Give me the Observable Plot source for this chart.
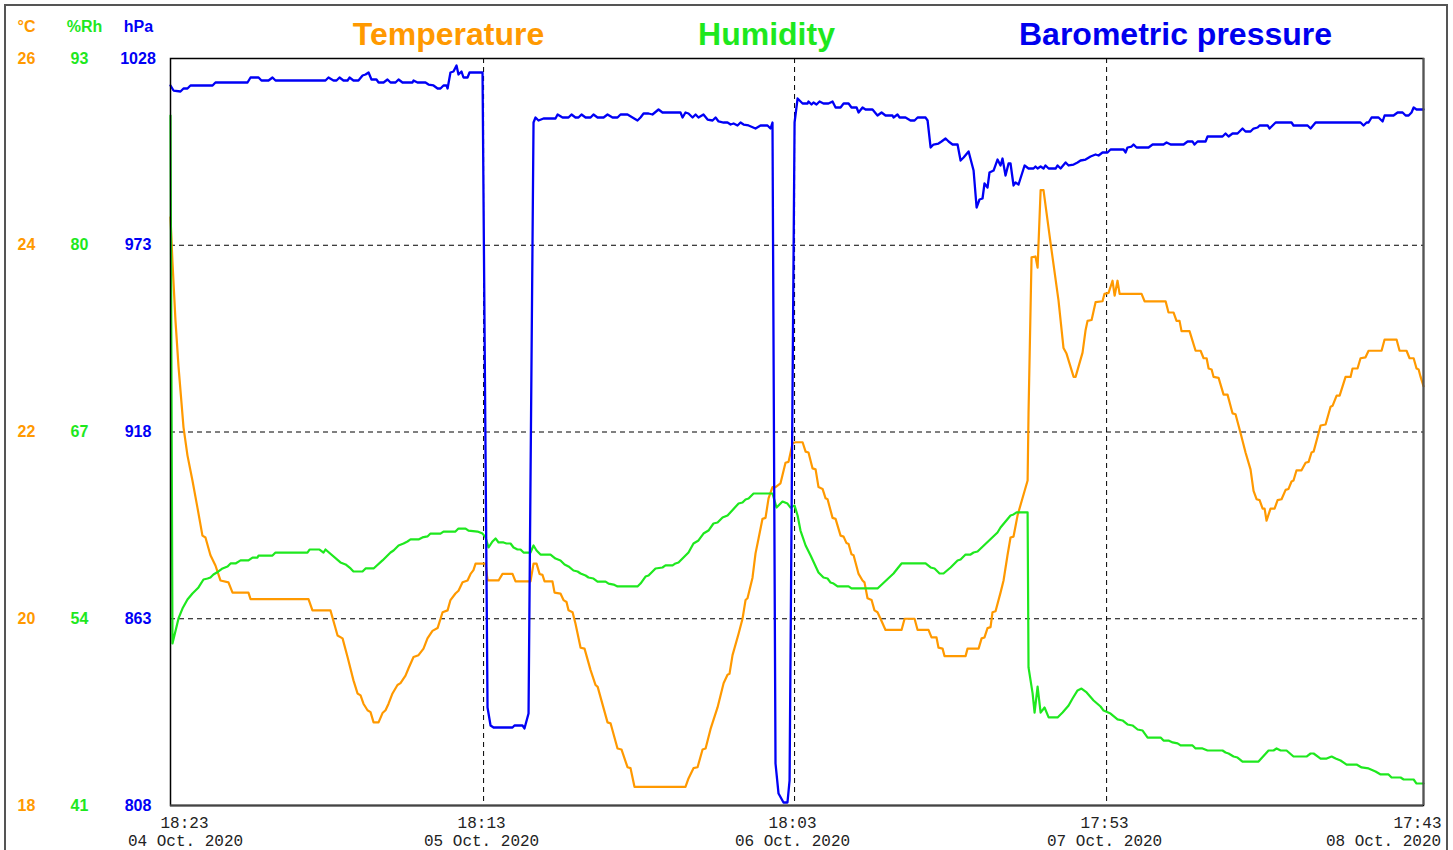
<!DOCTYPE html>
<html><head><meta charset="utf-8">
<script src="https://cdn.jsdelivr.net/npm/d3@7"></script>
<script src="https://cdn.jsdelivr.net/npm/@observablehq/plot@0.6"></script>
<style>
body{margin:0;background:#fff;}
#wrap{position:relative;width:1453px;height:850px;overflow:hidden;background:#fff;}
#border{position:absolute;left:4px;top:4px;width:1440px;height:900px;border:2px solid #555;pointer-events:none;}
</style></head><body><div id="wrap"><div id="chart"></div><div id="border"></div></div>
<script>
// Time axis: start of record (UTC); tick positions in hours since start
const startTime = "2020-10-04T18:23:00Z";
const xTickHours = [0, 23.82, 47.48, 71.22, 95.33];
const xTickTimeLabels = ["18:23", "18:13", "18:03", "17:53", "17:43"];
const xTickDateLabels = ["04 Oct. 2020", "05 Oct. 2020", "06 Oct. 2020", "07 Oct. 2020", "08 Oct. 2020"];

// Axis ticks per unit
const tempTicks = [18, 20, 22, 24, 26];
const humTicks = [41, 54, 67, 80, 93];
const presTicks = [808, 863, 918, 973, 1028];

// Titles
const titles = ["Temperature", "Humidity", "Barometric pressure"];
const units = ["°C", "%Rh", "hPa"];

// Series: [hours since start, value]
const temperature = [[0,24.3],[0.15,23.82],[0.38,23.19],[0.61,22.7],[0.99,22.05],[1.29,21.75],[1.67,21.48],[2.05,21.19],[2.43,20.89],[2.66,20.87],[3.04,20.68],[3.42,20.57],[3.8,20.41],[4.41,20.39],[4.72,20.28],[5.93,20.28],[6.09,20.21],[10.5,20.21],[10.8,20.09],[12.17,20.09],[12.71,19.82],[13.09,19.79],[13.47,19.59],[13.92,19.34],[14.23,19.2],[14.46,19.18],[14.68,19.09],[14.99,19.02],[15.22,19.0],[15.45,18.89],[15.83,18.89],[16.13,18.99],[16.36,19.02],[16.59,19.09],[16.89,19.2],[17.27,19.29],[17.5,19.31],[17.88,19.39],[18.11,19.47],[18.49,19.59],[18.87,19.61],[19.25,19.68],[19.55,19.79],[19.93,19.87],[20.32,19.9],[20.7,20.07],[21.08,20.09],[21.3,20.2],[21.68,20.27],[21.91,20.3],[22.22,20.39],[22.6,20.41],[22.83,20.48],[23.05,20.52],[23.21,20.59],[23.97,20.59],[24.12,20.41],[24.96,20.41],[25.26,20.48],[26.02,20.48],[26.25,20.4],[27.39,20.4],[27.62,20.59],[27.85,20.59],[28.08,20.48],[28.3,20.47],[28.46,20.4],[29.06,20.4],[29.22,20.28],[29.67,20.27],[29.9,20.2],[30.13,20.18],[30.28,20.09],[30.59,20.07],[30.81,19.95],[31.2,19.69],[31.5,19.68],[31.96,19.45],[32.34,19.29],[32.5,19.27],[33.25,18.89],[33.48,18.88],[34.01,18.61],[34.31,18.6],[34.77,18.41],[35.0,18.4],[35.3,18.2],[39.18,18.2],[39.41,18.29],[39.79,18.4],[40.1,18.41],[40.48,18.6],[40.71,18.61],[41.09,18.82],[41.62,19.05],[42.08,19.31],[42.38,19.4],[42.53,19.41],[42.76,19.61],[43.22,19.84],[43.52,20.0],[43.75,20.2],[43.9,20.22],[44.28,20.44],[44.51,20.7],[44.74,20.86],[45.04,21.07],[45.27,21.08],[45.5,21.29],[45.8,21.41],[46.03,21.41],[46.41,21.45],[46.79,21.67],[47.02,21.68],[47.33,21.88],[47.55,21.89],[48.09,21.89],[48.32,21.79],[48.54,21.78],[48.85,21.61],[49.08,21.6],[49.3,21.41],[49.61,21.39],[49.84,21.29],[49.99,21.28],[50.37,21.08],[50.6,21.07],[50.98,20.89],[51.21,20.88],[51.43,20.81],[51.59,20.8],[51.81,20.69],[51.97,20.68],[52.35,20.48],[52.65,20.41],[52.8,20.39],[53.03,20.22],[53.34,20.2],[53.56,20.09],[53.79,20.07],[54.02,20.0],[54.4,19.88],[55.62,19.88],[55.85,20.0],[56.61,20.0],[56.84,19.88],[57.67,19.88],[57.9,19.8],[58.28,19.8],[58.43,19.69],[58.74,19.68],[58.89,19.6],[60.49,19.6],[60.64,19.68],[61.48,19.68],[61.71,19.79],[61.93,19.8],[62.16,19.9],[62.39,19.91],[62.54,20.07],[62.77,20.08],[63.15,20.28],[63.38,20.41],[63.68,20.68],[63.91,20.87],[64.14,20.88],[64.45,21.11],[65.21,21.48],[65.28,22.2],[65.51,23.87],[65.81,23.88],[65.97,23.76],[66.2,24.59],[66.42,24.59],[66.96,24.02],[67.56,23.41],[67.94,22.9],[68.17,22.84],[68.71,22.59],[68.86,22.59],[69.39,22.85],[69.62,23.09],[69.77,23.19],[70.08,23.2],[70.38,23.39],[70.91,23.4],[71.06,23.48],[71.37,23.49],[71.67,23.62],[71.83,23.46],[72.05,23.62],[72.21,23.48],[73.88,23.48],[74.11,23.4],[75.71,23.4],[75.93,23.28],[76.31,23.28],[76.54,23.19],[76.77,23.19],[76.92,23.08],[77.53,23.08],[77.99,22.87],[78.37,22.87],[78.6,22.79],[78.83,22.79],[78.98,22.68],[79.21,22.67],[79.36,22.59],[79.74,22.58],[80.12,22.4],[80.42,22.4],[80.8,22.2],[81.03,22.19],[81.41,21.99],[81.79,21.78],[82.17,21.6],[82.4,21.37],[82.63,21.28],[82.86,21.27],[83.09,21.18],[83.24,21.18],[83.39,21.05],[83.69,21.18],[84.0,21.18],[84.23,21.27],[84.53,21.28],[84.84,21.38],[85.06,21.39],[85.29,21.47],[85.44,21.48],[85.67,21.59],[86.05,21.59],[86.36,21.67],[86.59,21.68],[86.81,21.78],[86.97,21.79],[87.35,21.99],[87.5,22.07],[87.88,22.08],[88.26,22.27],[88.41,22.28],[88.72,22.39],[88.95,22.39],[89.4,22.59],[89.78,22.59],[89.93,22.68],[90.31,22.68],[90.54,22.79],[90.92,22.8],[91.15,22.87],[92.14,22.87],[92.37,22.99],[93.28,22.99],[93.51,22.87],[94.04,22.87],[94.27,22.79],[94.58,22.79],[94.8,22.68],[94.96,22.67],[95.11,22.59],[95.33,22.49]];

const humidity = [[0,89.03],[0.15,52.28],[0.61,54.02],[0.91,54.71],[1.29,55.34],[1.67,55.76],[2.13,56.18],[2.51,56.73],[2.82,56.8],[3.04,56.87],[3.27,57.08],[3.65,57.29],[3.96,57.5],[4.34,57.64],[4.57,57.85],[4.95,57.85],[5.33,58.06],[5.93,58.06],[6.24,58.26],[6.62,58.26],[6.7,58.4],[7.76,58.4],[7.99,58.61],[10.42,58.61],[10.58,58.82],[11.34,58.82],[11.64,58.61],[11.79,58.82],[12.93,57.92],[13.32,57.78],[13.7,57.5],[13.92,57.29],[14.61,57.29],[14.84,57.5],[15.45,57.5],[16.13,58.06],[16.74,58.61],[16.97,58.75],[17.35,59.1],[17.73,59.24],[18.03,59.38],[18.26,59.52],[18.87,59.52],[19.17,59.66],[19.55,59.73],[19.78,59.93],[20.54,59.93],[20.77,60.07],[21.68,60.07],[21.91,60.28],[22.45,60.28],[22.67,60.14],[23.36,60.07],[23.74,59.93],[23.97,59.66],[24.2,58.96],[24.5,59.38],[24.73,59.59],[24.96,59.31],[25.34,59.31],[25.56,59.24],[25.87,59.24],[26.1,58.96],[26.4,58.82],[26.63,58.82],[26.86,58.61],[27.39,58.61],[27.62,59.1],[27.85,58.75],[28.15,58.47],[28.91,58.47],[29.29,58.19],[29.67,58.06],[29.98,57.78],[30.28,57.64],[30.66,57.36],[30.97,57.29],[31.2,57.15],[31.58,57.01],[31.8,56.87],[32.18,56.8],[32.49,56.59],[33.1,56.59],[33.33,56.45],[33.71,56.38],[34.01,56.25],[35.53,56.25],[35.76,56.45],[36.14,56.94],[36.37,57.01],[36.9,57.5],[37.43,57.57],[37.66,57.71],[38.2,57.71],[38.42,57.85],[38.65,57.92],[39.41,58.61],[39.79,59.24],[40.17,59.45],[40.55,59.93],[40.93,60.14],[41.31,60.63],[41.62,60.7],[42.0,61.05],[42.38,61.19],[43.22,62.02],[43.52,62.09],[43.75,62.3],[43.98,62.37],[44.36,62.72],[45.8,62.72],[46.11,61.74],[46.56,62.16],[46.94,62.02],[47.17,61.74],[47.48,61.88],[47.71,61.19],[47.93,60.14],[48.32,59.1],[48.7,58.4],[49.3,57.22],[49.68,56.87],[49.99,56.8],[50.22,56.52],[50.45,56.45],[50.75,56.25],[51.59,56.25],[51.81,56.11],[53.79,56.11],[55.01,57.15],[55.31,57.5],[55.62,57.85],[57.45,57.85],[57.83,57.57],[58.13,57.5],[58.51,57.15],[58.81,57.15],[59.35,57.57],[59.88,58.06],[60.11,58.13],[60.49,58.47],[60.87,58.47],[61.1,58.61],[61.4,58.68],[62.92,60.0],[63.15,60.35],[63.91,61.19],[64.14,61.26],[64.37,61.4],[65.21,61.4],[65.28,50.61],[65.59,48.8],[65.74,47.47],[65.97,49.28],[66.2,47.47],[66.5,47.82],[66.81,47.13],[67.49,47.13],[67.87,47.47],[68.33,47.96],[68.63,48.45],[69.01,49.01],[69.31,49.14],[69.7,48.87],[70.23,48.31],[70.76,47.89],[70.99,47.61],[71.52,47.4],[72.05,46.99],[72.43,46.92],[72.81,46.64],[73.19,46.57],[73.58,46.29],[73.96,46.22],[74.34,45.73],[75.33,45.73],[75.55,45.52],[75.93,45.52],[76.24,45.39],[76.62,45.32],[76.85,45.18],[77.76,45.18],[77.99,44.97],[78.52,44.97],[78.9,44.83],[80.04,44.83],[80.27,44.69],[80.5,44.62],[80.88,44.41],[81.18,44.34],[81.56,44.06],[82.78,44.06],[83.54,44.83],[83.92,44.83],[84.15,44.97],[84.46,44.83],[84.91,44.83],[85.44,44.41],[86.43,44.41],[86.74,44.62],[86.97,44.62],[87.5,44.27],[87.96,44.27],[88.34,44.41],[88.64,44.27],[89.02,44.13],[89.48,43.85],[90.24,43.85],[90.62,43.65],[91.15,43.58],[91.68,43.37],[92.07,43.16],[92.67,43.16],[92.9,42.95],[93.59,42.95],[93.82,42.81],[94.58,42.81],[94.8,42.53],[95.33,42.53]];

const pressure = [[0,1020.05],[0.23,1018.57],[0.76,1018.28],[0.99,1019.16],[1.29,1019.16],[1.52,1020.05],[3.2,1020.05],[3.42,1020.93],[5.86,1020.93],[6.09,1022.4],[6.7,1022.4],[6.92,1021.52],[7.46,1021.52],[7.76,1022.4],[7.99,1021.52],[11.79,1021.52],[12.02,1022.4],[12.4,1021.52],[12.63,1021.52],[12.86,1022.4],[13.16,1021.52],[13.47,1021.52],[13.62,1022.4],[13.92,1021.52],[14.3,1021.52],[14.61,1022.99],[14.84,1023.29],[15.07,1023.88],[15.29,1021.81],[15.67,1021.81],[15.83,1020.93],[16.21,1020.93],[16.51,1021.81],[16.74,1020.93],[17.12,1020.93],[17.35,1021.81],[17.65,1020.93],[18.41,1020.93],[18.49,1021.52],[18.79,1020.93],[19.4,1020.93],[19.63,1020.34],[20.01,1020.05],[20.32,1019.16],[20.54,1019.16],[20.77,1020.05],[21.0,1020.05],[21.08,1019.16],[21.3,1023.88],[21.53,1024.17],[21.76,1025.94],[21.91,1023.29],[22.14,1024.17],[22.29,1022.4],[22.6,1022.4],[22.75,1023.88],[23.74,1023.88],[24.12,836.86],[24.35,831.56],[24.58,830.97],[26.02,830.97],[26.17,831.56],[26.78,831.56],[26.93,830.68],[27.24,835.09],[27.62,1009.15],[27.77,1010.62],[28.0,1009.74],[28.38,1010.33],[29.29,1010.33],[29.45,1011.51],[29.83,1010.62],[30.28,1010.62],[30.51,1011.51],[30.81,1010.62],[31.04,1010.62],[31.27,1011.51],[31.58,1010.62],[31.96,1010.62],[32.18,1011.51],[32.49,1010.62],[32.95,1010.62],[33.25,1011.51],[33.63,1010.62],[34.01,1010.62],[34.24,1011.51],[34.77,1011.51],[35.15,1010.62],[35.53,1009.74],[35.76,1010.62],[35.99,1011.8],[36.37,1011.8],[36.67,1011.51],[37.13,1012.98],[37.43,1012.1],[38.8,1012.1],[38.96,1010.62],[39.18,1012.1],[39.41,1011.8],[39.72,1010.62],[39.95,1011.51],[40.17,1010.62],[40.55,1011.51],[40.86,1010.03],[41.24,1009.74],[41.47,1010.62],[41.7,1009.45],[42.08,1009.15],[42.38,1009.15],[42.61,1008.56],[42.84,1008.86],[43.14,1008.27],[43.37,1009.15],[43.6,1008.56],[43.98,1008.27],[44.51,1007.38],[44.89,1008.27],[45.42,1008.27],[45.65,1007.38],[45.8,1009.15],[46.03,820.37],[46.26,811.53],[46.64,808.88],[46.94,808.88],[47.1,815.36],[47.48,1009.15],[47.71,1016.22],[48.09,1014.75],[48.47,1014.75],[48.54,1015.34],[48.77,1014.45],[48.92,1015.04],[49.15,1014.45],[49.38,1015.34],[49.68,1014.75],[50.06,1014.75],[50.37,1015.34],[50.6,1013.57],[50.98,1013.57],[51.21,1014.75],[51.59,1014.75],[51.81,1013.57],[52.2,1013.57],[52.35,1012.1],[52.65,1013.57],[52.88,1012.98],[53.41,1012.98],[53.79,1011.21],[54.1,1012.1],[54.4,1011.21],[54.93,1011.21],[55.01,1010.62],[55.31,1011.51],[55.47,1010.62],[55.92,1010.62],[56.3,1009.74],[56.61,1009.74],[56.84,1010.62],[57.45,1010.62],[57.6,1009.74],[57.83,1001.79],[58.05,1002.67],[58.43,1002.96],[58.66,1003.55],[58.97,1004.44],[59.2,1003.55],[59.5,1002.67],[59.88,1002.67],[60.11,997.96],[60.34,998.84],[60.72,1000.61],[61.1,995.01],[61.33,984.12],[61.55,986.47],[61.78,986.77],[61.93,991.19],[62.16,990.01],[62.31,994.42],[62.62,995.01],[62.92,998.25],[63.15,996.49],[63.3,998.55],[63.53,993.54],[63.76,997.08],[63.91,997.08],[64.14,990.6],[64.29,991.48],[64.52,990.89],[64.98,996.49],[65.28,995.6],[65.66,995.6],[65.81,996.19],[65.97,995.6],[66.2,996.19],[66.42,995.6],[66.57,996.49],[66.81,995.6],[67.34,995.6],[67.49,996.49],[67.72,995.6],[68.1,997.37],[68.33,996.49],[68.71,996.78],[69.01,997.37],[69.24,997.96],[69.62,998.25],[70.0,999.14],[70.38,999.73],[70.61,999.43],[70.91,1000.32],[71.29,1000.32],[71.52,1001.2],[72.51,1001.2],[72.66,1000.32],[72.81,1001.79],[73.12,1002.08],[73.27,1002.67],[73.5,1001.79],[74.41,1001.79],[74.72,1002.67],[75.55,1002.67],[75.78,1003.26],[76.09,1002.67],[77.08,1002.67],[77.38,1003.55],[77.76,1003.55],[77.91,1002.67],[78.14,1003.55],[78.75,1003.55],[78.9,1005.03],[80.04,1005.03],[80.27,1005.91],[80.5,1005.03],[80.8,1005.91],[81.18,1005.91],[81.56,1007.38],[81.79,1006.5],[82.17,1006.5],[82.4,1007.38],[82.71,1007.68],[82.86,1008.27],[83.47,1008.27],[83.62,1007.38],[84.08,1009.15],[85.29,1009.15],[85.44,1008.27],[86.51,1008.27],[86.74,1007.38],[87.12,1009.15],[90.54,1009.15],[90.77,1008.27],[91.0,1009.15],[91.15,1009.15],[91.38,1010.62],[91.91,1010.62],[92.22,1009.45],[92.37,1011.21],[93.05,1011.21],[93.36,1012.1],[93.74,1012.1],[93.97,1011.21],[94.2,1011.21],[94.42,1012.1],[94.58,1013.57],[94.8,1012.98],[95.33,1012.98]];

// Colours
const cTemp = "#ff9900", cHum = "#1ee81e", cPres = "#0000f5";

// Helpers
const t0 = Date.parse(startTime);
const toDate = h => new Date(t0 + h * 3600000);
const hum2y = v => 18 + (v - 41) * 8 / 52;
const pres2y = v => 18 + (v - 808) * 8 / 220;
const xTicks = xTickHours.map((h, i) => ({date: toDate(h), time: xTickTimeLabels[i], day: xTickDateLabels[i]}));

const sans = "'Liberation Sans', Arial, sans-serif";
const mono = "'Liberation Mono', 'Courier New', monospace";
const labelOpts = {fontFamily: sans, fontWeight: "bold", fontSize: 16, textAnchor: "middle", lineAnchor: "middle"};
const tickOpts = {fontFamily: mono, fontSize: 16, fill: "#222", textAnchor: "middle", lineAnchor: "middle", frameAnchor: "bottom"};
const titleOpts = {fontFamily: sans, fontWeight: "bold", fontSize: 32, textAnchor: "middle", lineAnchor: "middle", frameAnchor: "top", dy: -24};

const chart = Plot.plot({
  width: 1453,
  height: 850,
  marginLeft: 170,
  marginRight: 30,
  marginTop: 58,
  marginBottom: 45,
  style: {background: "transparent", fontFamily: sans, overflow: "visible"},
  x: {type: "utc", domain: [xTicks[0].date, xTicks[xTicks.length - 1].date], axis: null},
  y: {domain: [18, 26], axis: null},
  marks: [
    Plot.ruleY([20, 22, 24], {stroke: "#000", strokeWidth: 1, strokeDasharray: "5,4"}),
    Plot.ruleX(xTicks.slice(1, -1), {x: "date", stroke: "#000", strokeWidth: 1, strokeDasharray: "5,4"}),
    Plot.line(temperature, {x: d => toDate(d[0]), y: d => d[1], stroke: cTemp, strokeWidth: 2.2}),
    Plot.line(humidity, {x: d => toDate(d[0]), y: d => hum2y(d[1]), stroke: cHum, strokeWidth: 2.2}),
    Plot.line(pressure, {x: d => toDate(d[0]), y: d => pres2y(d[1]), stroke: cPres, strokeWidth: 2.3}),
    Plot.frame({stroke: "#000", strokeWidth: 1.5}),
    Plot.ruleX(xTicks.slice(-1), {x: "date", stroke: "#555", strokeWidth: 2}),
    Plot.ruleY([18], {stroke: "#444", strokeWidth: 2}),
    // y tick labels (three unit columns)
    Plot.text(tempTicks, {y: d => d, text: d => String(d), frameAnchor: "left", dx: -144, fill: cTemp, ...labelOpts}),
    Plot.text(humTicks, {y: d => hum2y(d), text: d => String(d), frameAnchor: "left", dx: -91, fill: cHum, ...labelOpts}),
    Plot.text(presTicks, {y: d => pres2y(d), text: d => String(d), frameAnchor: "left", dx: -32.5, fill: cPres, ...labelOpts}),
    // unit headers
    Plot.text([units[0]], {text: d => d, frameAnchor: "top-left", dx: -144, dy: -32, fill: cTemp, ...labelOpts}),
    Plot.text([units[1]], {text: d => d, frameAnchor: "top-left", dx: -86, dy: -32, fill: cHum, ...labelOpts}),
    Plot.text([units[2]], {text: d => d, frameAnchor: "top-left", dx: -32, dy: -32, fill: cPres, ...labelOpts}),
    // titles
    Plot.text([titles[0]], {text: d => d, dx: 448 - 796.5, fill: cTemp, ...titleOpts}),
    Plot.text([titles[1]], {text: d => d, dx: 766 - 796.5, fill: cHum, ...titleOpts}),
    Plot.text([titles[2]], {text: d => d, dx: 1175 - 796.5, fill: "#0000ee", ...titleOpts}),
    // x tick labels
    Plot.text(xTicks.slice(0, 1), {x: "date", text: "time", dx: 14, dy: 17, ...tickOpts}),
    Plot.text(xTicks.slice(0, 1), {x: "date", text: "day", dx: 15, dy: 35, ...tickOpts}),
    Plot.text(xTicks.slice(1, -1), {x: "date", text: "time", dx: -2, dy: 17, ...tickOpts}),
    Plot.text(xTicks.slice(1, -1), {x: "date", text: "day", dx: -2, dy: 35, ...tickOpts}),
    Plot.text(xTicks.slice(-1), {x: "date", text: "time", dx: -6, dy: 17, ...tickOpts}),
    Plot.text(xTicks.slice(-1), {x: "date", text: "day", dx: -40, dy: 35, ...tickOpts})
  ]
});
document.getElementById("chart").appendChild(chart);
</script></body></html>
